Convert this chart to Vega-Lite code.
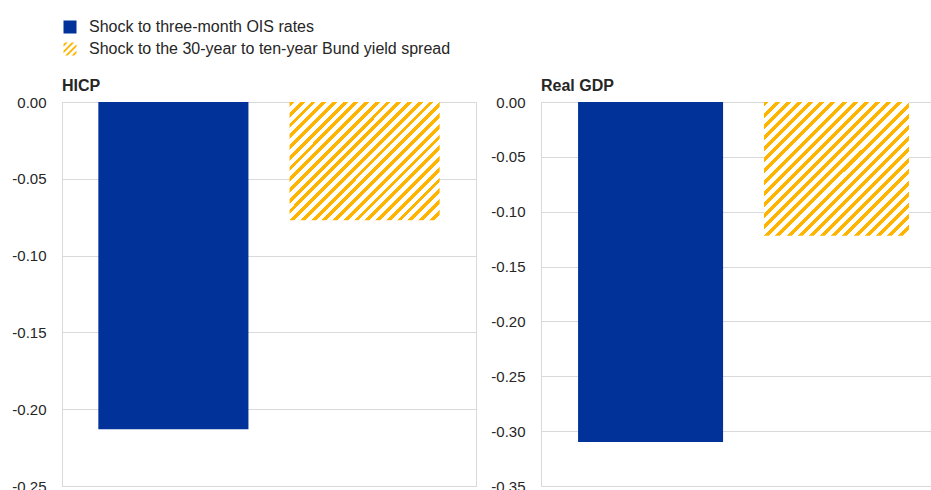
{
  "$schema": "https://vega.github.io/schema/vega-lite/v6.json",
  "padding": {"left": 11, "top": 19, "right": 0, "bottom": 0},
  "background": "white",
  "data": {"values": [
    {"panel": "HICP", "series": "Shock to three-month OIS rates", "value": -0.213},
    {"panel": "HICP", "series": "Shock to the 30-year to ten-year Bund yield spread", "value": -0.077},
    {"panel": "Real GDP", "series": "Shock to three-month OIS rates", "value": -0.310},
    {"panel": "Real GDP", "series": "Shock to the 30-year to ten-year Bund yield spread", "value": -0.122}
  ]},
  "config": {
    "font": "Liberation Sans",
    "view": {"stroke": "#d9d9d9"},
    "axis": {"domainColor": "#d9d9d9", "gridColor": "#d9d9d9", "ticks": false, "labelFontSize": 15, "labelColor": "#262626", "labelPadding": 16, "title": null},
    "legend": {"orient": "top", "direction": "vertical", "symbolType": "square", "symbolSize": 169, "symbolStrokeWidth": 0, "labelFontSize": 16, "labelColor": "#262626", "labelOffset": 11, "rowPadding": 6, "labelLimit": 600, "offset": 20},
    "title": {"anchor": "start", "frame": "group", "fontSize": 16, "fontWeight": "bold", "color": "#262626", "offset": 1}
  },
  "resolve": {"scale": {"fill": "shared", "shape": "shared"}, "legend": {"fill": "shared", "shape": "shared"}},
  "spacing": 13,
  "hconcat": [
    {
      "title": "HICP",
      "width": 414,
      "height": 384,
      "transform": [{"filter": "datum.panel === 'HICP'"}],
      "encoding": {
        "x": {"field": "series", "type": "nominal", "sort": null, "axis": null,
              "scale": {"domain": ["Shock to three-month OIS rates", "Shock to the 30-year to ten-year Bund yield spread"], "paddingInner": 0.215, "paddingOuter": 0.19}},
        "y": {"field": "value", "type": "quantitative",
              "scale": {"domain": [-0.25, 0], "nice": false},
              "axis": {"values": [0, -0.05, -0.1, -0.15, -0.2, -0.25], "labelExpr": "replace(format(datum.value, '.2f'), '\u2212', '-')"}}
      },
      "layer": [
        {
          "mark": {"type": "point", "filled": true, "size": 169, "opacity": 1},
          "encoding": {
            "y": {"datum": -0.05, "type": "quantitative"},
            "fill": {"field": "series", "type": "nominal",
                     "scale": {"domain": ["Shock to three-month OIS rates", "Shock to the 30-year to ten-year Bund yield spread"], "range": ["#003299", "#FFB400"]},
                     "legend": {"title": null}},
            "shape": {"field": "series", "type": "nominal",
                      "scale": {"domain": ["Shock to three-month OIS rates", "Shock to the 30-year to ten-year Bund yield spread"],
                                "range": ["square", "M-0.75,-1L-0.35,-1L-1,-0.35L-1,-0.75ZM0.25,-1L0.65,-1L-1,0.65L-1,0.25ZM1,-0.75L1,-0.35L-0.35,1L-0.75,1ZM1,0.25L1,0.65L0.65,1L0.25,1Z"]},
                      "legend": {"title": null}}
          }
        },
        {
          "transform": [{"filter": "datum.series === 'Shock to three-month OIS rates'"}],
          "mark": {"type": "bar", "fill": "#003299"}
        },
        {
          "transform": [{"filter": "datum.series !== 'Shock to three-month OIS rates'"}],
          "mark": {"type": "bar", "fill": {"gradient": "linear", "x1": 0, "y1": 0, "x2": 1.1038, "y2": 0.8687, "stops": [
            {"offset": 0, "color": "#FFB400"}, {"offset": 0.018, "color": "#FFB400"}, {"offset": 0.018, "color": "#ffffff"}, {"offset": 0.04, "color": "#ffffff"},
            {"offset": 0.04, "color": "#FFB400"}, {"offset": 0.058, "color": "#FFB400"}, {"offset": 0.058, "color": "#ffffff"}, {"offset": 0.08, "color": "#ffffff"},
            {"offset": 0.08, "color": "#FFB400"}, {"offset": 0.098, "color": "#FFB400"}, {"offset": 0.098, "color": "#ffffff"}, {"offset": 0.12, "color": "#ffffff"},
            {"offset": 0.12, "color": "#FFB400"}, {"offset": 0.138, "color": "#FFB400"}, {"offset": 0.138, "color": "#ffffff"}, {"offset": 0.16, "color": "#ffffff"},
            {"offset": 0.16, "color": "#FFB400"}, {"offset": 0.178, "color": "#FFB400"}, {"offset": 0.178, "color": "#ffffff"}, {"offset": 0.2, "color": "#ffffff"},
            {"offset": 0.2, "color": "#FFB400"}, {"offset": 0.218, "color": "#FFB400"}, {"offset": 0.218, "color": "#ffffff"}, {"offset": 0.24, "color": "#ffffff"},
            {"offset": 0.24, "color": "#FFB400"}, {"offset": 0.258, "color": "#FFB400"}, {"offset": 0.258, "color": "#ffffff"}, {"offset": 0.28, "color": "#ffffff"},
            {"offset": 0.28, "color": "#FFB400"}, {"offset": 0.298, "color": "#FFB400"}, {"offset": 0.298, "color": "#ffffff"}, {"offset": 0.32, "color": "#ffffff"},
            {"offset": 0.32, "color": "#FFB400"}, {"offset": 0.338, "color": "#FFB400"}, {"offset": 0.338, "color": "#ffffff"}, {"offset": 0.36, "color": "#ffffff"},
            {"offset": 0.36, "color": "#FFB400"}, {"offset": 0.378, "color": "#FFB400"}, {"offset": 0.378, "color": "#ffffff"}, {"offset": 0.4, "color": "#ffffff"},
            {"offset": 0.4, "color": "#FFB400"}, {"offset": 0.418, "color": "#FFB400"}, {"offset": 0.418, "color": "#ffffff"}, {"offset": 0.44, "color": "#ffffff"},
            {"offset": 0.44, "color": "#FFB400"}, {"offset": 0.458, "color": "#FFB400"}, {"offset": 0.458, "color": "#ffffff"}, {"offset": 0.48, "color": "#ffffff"},
            {"offset": 0.48, "color": "#FFB400"}, {"offset": 0.498, "color": "#FFB400"}, {"offset": 0.498, "color": "#ffffff"}, {"offset": 0.52, "color": "#ffffff"},
            {"offset": 0.52, "color": "#FFB400"}, {"offset": 0.538, "color": "#FFB400"}, {"offset": 0.538, "color": "#ffffff"}, {"offset": 0.56, "color": "#ffffff"},
            {"offset": 0.56, "color": "#FFB400"}, {"offset": 0.578, "color": "#FFB400"}, {"offset": 0.578, "color": "#ffffff"}, {"offset": 0.6, "color": "#ffffff"},
            {"offset": 0.6, "color": "#FFB400"}, {"offset": 0.618, "color": "#FFB400"}, {"offset": 0.618, "color": "#ffffff"}, {"offset": 0.64, "color": "#ffffff"},
            {"offset": 0.64, "color": "#FFB400"}, {"offset": 0.658, "color": "#FFB400"}, {"offset": 0.658, "color": "#ffffff"}, {"offset": 0.68, "color": "#ffffff"},
            {"offset": 0.68, "color": "#FFB400"}, {"offset": 0.698, "color": "#FFB400"}, {"offset": 0.698, "color": "#ffffff"}, {"offset": 0.72, "color": "#ffffff"},
            {"offset": 0.72, "color": "#FFB400"}, {"offset": 0.738, "color": "#FFB400"}, {"offset": 0.738, "color": "#ffffff"}, {"offset": 0.76, "color": "#ffffff"},
            {"offset": 0.76, "color": "#FFB400"}, {"offset": 0.778, "color": "#FFB400"}, {"offset": 0.778, "color": "#ffffff"}, {"offset": 0.8, "color": "#ffffff"},
            {"offset": 0.8, "color": "#FFB400"}, {"offset": 0.818, "color": "#FFB400"}, {"offset": 0.818, "color": "#ffffff"}, {"offset": 0.84, "color": "#ffffff"},
            {"offset": 0.84, "color": "#FFB400"}, {"offset": 0.858, "color": "#FFB400"}, {"offset": 0.858, "color": "#ffffff"}, {"offset": 0.88, "color": "#ffffff"},
            {"offset": 0.88, "color": "#FFB400"}, {"offset": 0.898, "color": "#FFB400"}, {"offset": 0.898, "color": "#ffffff"}, {"offset": 0.92, "color": "#ffffff"},
            {"offset": 0.92, "color": "#FFB400"}, {"offset": 0.938, "color": "#FFB400"}, {"offset": 0.938, "color": "#ffffff"}, {"offset": 0.96, "color": "#ffffff"},
            {"offset": 0.96, "color": "#FFB400"}, {"offset": 0.978, "color": "#FFB400"}, {"offset": 0.978, "color": "#ffffff"}, {"offset": 1, "color": "#ffffff"}
          ]}}
        }
      ]
    },
    {
      "title": "Real GDP",
      "width": 393,
      "height": 384,
      "transform": [{"filter": "datum.panel === 'Real GDP'"}],
      "encoding": {
        "x": {"field": "series", "type": "nominal", "sort": null, "axis": null,
              "scale": {"domain": ["Shock to three-month OIS rates", "Shock to the 30-year to ten-year Bund yield spread"], "paddingInner": 0.22, "paddingOuter": 0.167, "align": 0.597}},
        "y": {"field": "value", "type": "quantitative",
              "scale": {"domain": [-0.35, 0], "nice": false},
              "axis": {"values": [0, -0.05, -0.1, -0.15, -0.2, -0.25, -0.3, -0.35], "labelExpr": "replace(format(datum.value, '.2f'), '\u2212', '-')"}}
      },
      "layer": [
        {
          "mark": {"type": "point", "filled": true, "size": 169, "opacity": 1},
          "encoding": {
            "y": {"datum": -0.05, "type": "quantitative"},
            "fill": {"field": "series", "type": "nominal",
                     "scale": {"domain": ["Shock to three-month OIS rates", "Shock to the 30-year to ten-year Bund yield spread"], "range": ["#003299", "#FFB400"]},
                     "legend": {"title": null}},
            "shape": {"field": "series", "type": "nominal",
                      "scale": {"domain": ["Shock to three-month OIS rates", "Shock to the 30-year to ten-year Bund yield spread"],
                                "range": ["square", "M-0.75,-1L-0.35,-1L-1,-0.35L-1,-0.75ZM0.25,-1L0.65,-1L-1,0.65L-1,0.25ZM1,-0.75L1,-0.35L-0.35,1L-0.75,1ZM1,0.25L1,0.65L0.65,1L0.25,1Z"]},
                      "legend": {"title": null}}
          }
        },
        {
          "transform": [{"filter": "datum.series === 'Shock to three-month OIS rates'"}],
          "mark": {"type": "bar", "fill": "#003299"}
        },
        {
          "transform": [{"filter": "datum.series !== 'Shock to three-month OIS rates'"}],
          "mark": {"type": "bar", "fill": {"gradient": "linear", "x1": 0, "y1": 0, "x2": 1.0379, "y2": 0.959, "stops": [
            {"offset": 0, "color": "#FFB400"}, {"offset": 0.018, "color": "#FFB400"}, {"offset": 0.018, "color": "#ffffff"}, {"offset": 0.04, "color": "#ffffff"},
            {"offset": 0.04, "color": "#FFB400"}, {"offset": 0.058, "color": "#FFB400"}, {"offset": 0.058, "color": "#ffffff"}, {"offset": 0.08, "color": "#ffffff"},
            {"offset": 0.08, "color": "#FFB400"}, {"offset": 0.098, "color": "#FFB400"}, {"offset": 0.098, "color": "#ffffff"}, {"offset": 0.12, "color": "#ffffff"},
            {"offset": 0.12, "color": "#FFB400"}, {"offset": 0.138, "color": "#FFB400"}, {"offset": 0.138, "color": "#ffffff"}, {"offset": 0.16, "color": "#ffffff"},
            {"offset": 0.16, "color": "#FFB400"}, {"offset": 0.178, "color": "#FFB400"}, {"offset": 0.178, "color": "#ffffff"}, {"offset": 0.2, "color": "#ffffff"},
            {"offset": 0.2, "color": "#FFB400"}, {"offset": 0.218, "color": "#FFB400"}, {"offset": 0.218, "color": "#ffffff"}, {"offset": 0.24, "color": "#ffffff"},
            {"offset": 0.24, "color": "#FFB400"}, {"offset": 0.258, "color": "#FFB400"}, {"offset": 0.258, "color": "#ffffff"}, {"offset": 0.28, "color": "#ffffff"},
            {"offset": 0.28, "color": "#FFB400"}, {"offset": 0.298, "color": "#FFB400"}, {"offset": 0.298, "color": "#ffffff"}, {"offset": 0.32, "color": "#ffffff"},
            {"offset": 0.32, "color": "#FFB400"}, {"offset": 0.338, "color": "#FFB400"}, {"offset": 0.338, "color": "#ffffff"}, {"offset": 0.36, "color": "#ffffff"},
            {"offset": 0.36, "color": "#FFB400"}, {"offset": 0.378, "color": "#FFB400"}, {"offset": 0.378, "color": "#ffffff"}, {"offset": 0.4, "color": "#ffffff"},
            {"offset": 0.4, "color": "#FFB400"}, {"offset": 0.418, "color": "#FFB400"}, {"offset": 0.418, "color": "#ffffff"}, {"offset": 0.44, "color": "#ffffff"},
            {"offset": 0.44, "color": "#FFB400"}, {"offset": 0.458, "color": "#FFB400"}, {"offset": 0.458, "color": "#ffffff"}, {"offset": 0.48, "color": "#ffffff"},
            {"offset": 0.48, "color": "#FFB400"}, {"offset": 0.498, "color": "#FFB400"}, {"offset": 0.498, "color": "#ffffff"}, {"offset": 0.52, "color": "#ffffff"},
            {"offset": 0.52, "color": "#FFB400"}, {"offset": 0.538, "color": "#FFB400"}, {"offset": 0.538, "color": "#ffffff"}, {"offset": 0.56, "color": "#ffffff"},
            {"offset": 0.56, "color": "#FFB400"}, {"offset": 0.578, "color": "#FFB400"}, {"offset": 0.578, "color": "#ffffff"}, {"offset": 0.6, "color": "#ffffff"},
            {"offset": 0.6, "color": "#FFB400"}, {"offset": 0.618, "color": "#FFB400"}, {"offset": 0.618, "color": "#ffffff"}, {"offset": 0.64, "color": "#ffffff"},
            {"offset": 0.64, "color": "#FFB400"}, {"offset": 0.658, "color": "#FFB400"}, {"offset": 0.658, "color": "#ffffff"}, {"offset": 0.68, "color": "#ffffff"},
            {"offset": 0.68, "color": "#FFB400"}, {"offset": 0.698, "color": "#FFB400"}, {"offset": 0.698, "color": "#ffffff"}, {"offset": 0.72, "color": "#ffffff"},
            {"offset": 0.72, "color": "#FFB400"}, {"offset": 0.738, "color": "#FFB400"}, {"offset": 0.738, "color": "#ffffff"}, {"offset": 0.76, "color": "#ffffff"},
            {"offset": 0.76, "color": "#FFB400"}, {"offset": 0.778, "color": "#FFB400"}, {"offset": 0.778, "color": "#ffffff"}, {"offset": 0.8, "color": "#ffffff"},
            {"offset": 0.8, "color": "#FFB400"}, {"offset": 0.818, "color": "#FFB400"}, {"offset": 0.818, "color": "#ffffff"}, {"offset": 0.84, "color": "#ffffff"},
            {"offset": 0.84, "color": "#FFB400"}, {"offset": 0.858, "color": "#FFB400"}, {"offset": 0.858, "color": "#ffffff"}, {"offset": 0.88, "color": "#ffffff"},
            {"offset": 0.88, "color": "#FFB400"}, {"offset": 0.898, "color": "#FFB400"}, {"offset": 0.898, "color": "#ffffff"}, {"offset": 0.92, "color": "#ffffff"},
            {"offset": 0.92, "color": "#FFB400"}, {"offset": 0.938, "color": "#FFB400"}, {"offset": 0.938, "color": "#ffffff"}, {"offset": 0.96, "color": "#ffffff"},
            {"offset": 0.96, "color": "#FFB400"}, {"offset": 0.978, "color": "#FFB400"}, {"offset": 0.978, "color": "#ffffff"}, {"offset": 1, "color": "#ffffff"}
          ]}}
        }
      ]
    }
  ]
}
